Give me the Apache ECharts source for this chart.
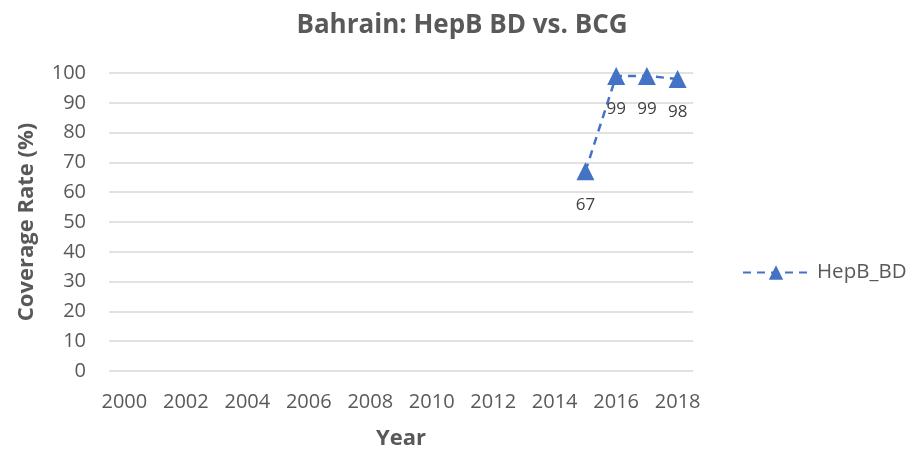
<!DOCTYPE html>
<html><head><meta charset="utf-8">
<script src="https://cdn.jsdelivr.net/npm/echarts@6/dist/echarts.min.js"></script>
<style>html,body{margin:0;padding:0;background:#fff}#c{width:915px;height:455px}</style>
</head><body><div id="c"></div>
<script>
const years = ['2000','2001','2002','2003','2004','2005','2006','2007','2008','2009','2010','2011','2012','2013','2014','2015','2016','2017','2018'];
const hepbBD = [null,null,null,null,null,null,null,null,null,null,null,null,null,null,null,67,99,99,98];
const yTicks = {min:0, max:100, interval:10};
const font = '"Open Sans", "Noto Sans", sans-serif';
const chart = echarts.init(document.getElementById('c'));
chart.setOption({
  animation:false,
  title:{text:'Bahrain: HepB BD vs. BCG', left:457, top:8, textAlign:'center',
    textStyle:{fontFamily:font, fontSize:26, fontWeight:'bold', color:'#595959'}},
  grid:{left:109, right:222, top:73, bottom:81},
  legend:{data:['HepB_BD'], left:737, top:257, itemWidth:66, itemHeight:18,
    textStyle:{fontFamily:font, fontSize:20.5, color:'#595959', padding:[0,0,0,3]}},
  xAxis:{type:'category', data:years, boundaryGap:true,
    name:'Year', nameLocation:'middle', nameGap:57,
    nameTextStyle:{fontFamily:font, fontSize:22, fontWeight:'bold', color:'#595959'},
    axisLine:{show:false}, axisTick:{show:false},
    axisLabel:{interval:1, margin:21, fontFamily:font, fontSize:20, color:'#595959'}},
  yAxis:{type:'value', min:yTicks.min, max:yTicks.max, interval:yTicks.interval,
    name:'Coverage Rate (%)', nameLocation:'middle', nameGap:71, nameRotate:90,
    nameTextStyle:{fontFamily:font, fontSize:22, fontWeight:'bold', color:'#595959'},
    axisLine:{show:false}, axisTick:{show:false},
    axisLabel:{margin:23, fontFamily:font, fontSize:20, color:'#595959'},
    splitLine:{lineStyle:{color:'#d9d9d9', width:1.5}}},
  series:[{name:'HepB_BD', type:'line', data:hepbBD, connectNulls:false,
    symbol:'triangle', symbolSize:18,
    itemStyle:{color:'#4472C4'},
    lineStyle:{color:'#4472C4', width:2.5, type:[8,6]},
    label:{show:true, position:'bottom', distance:16, fontFamily:font, fontSize:17, color:'#404040'}}]
});
</script></body></html>
